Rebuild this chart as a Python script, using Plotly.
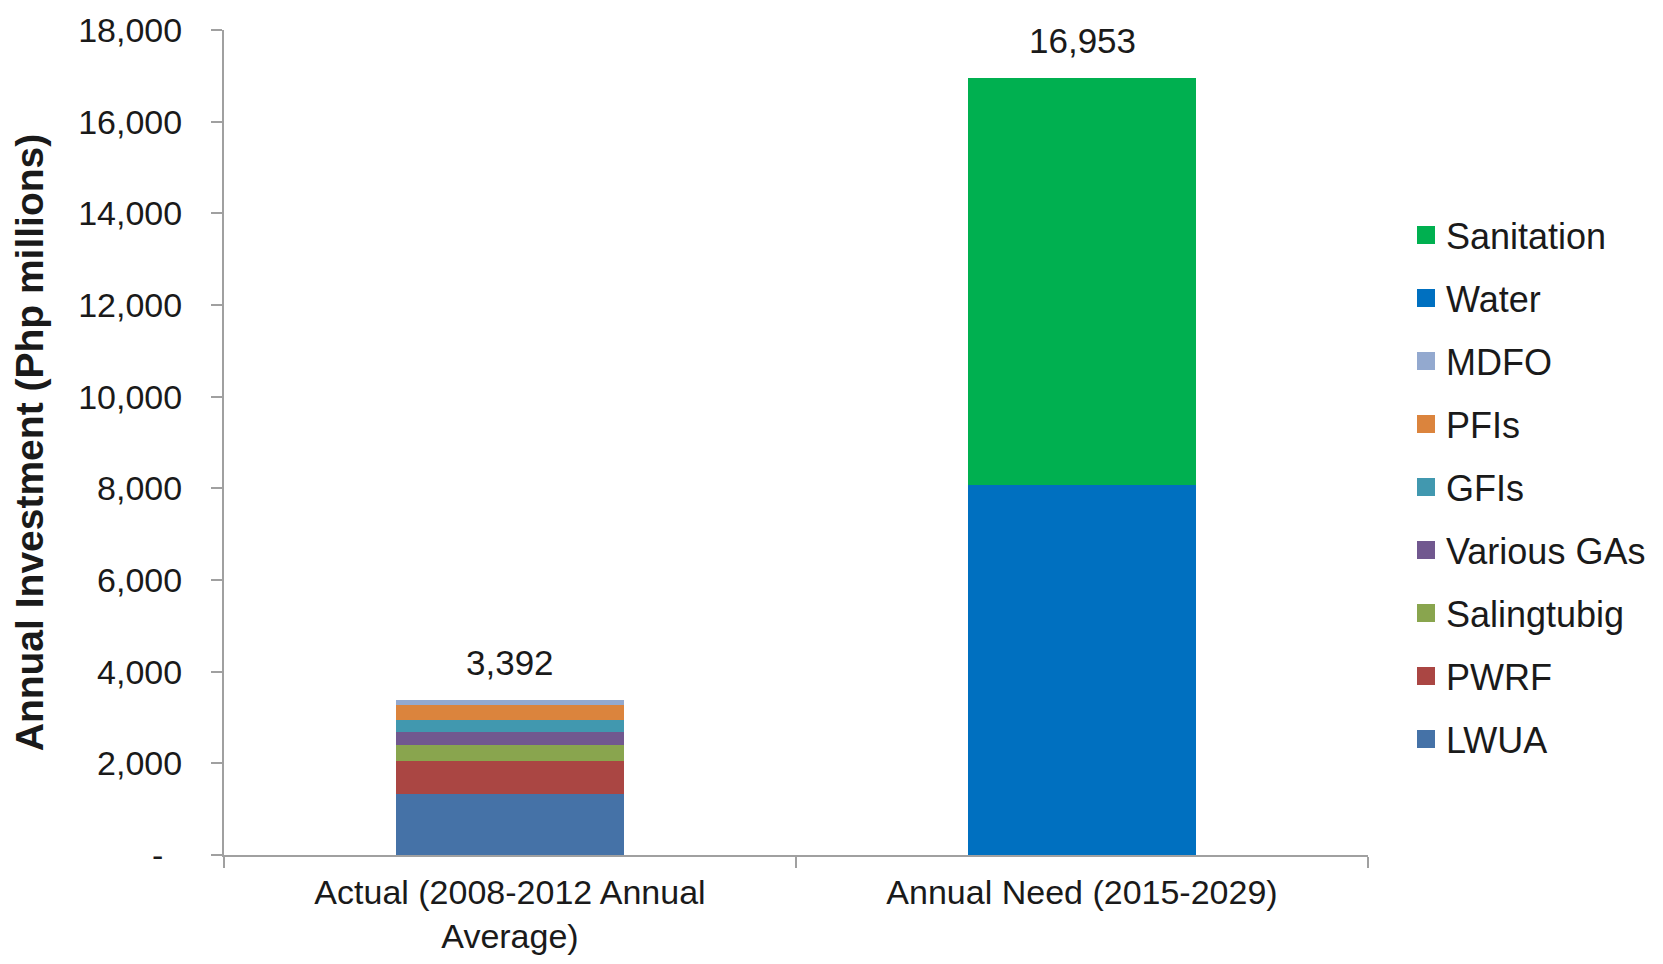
import plotly.graph_objects as go

categories = ["Actual (2008-2012 Annual Average)", "Annual Need (2015-2029)"]
category_labels = ["Actual (2008-2012 Annual<br>Average)", "Annual Need (2015-2029)"]

actual_series = ["LWUA", "PWRF", "Salingtubig", "Various GAs", "GFIs", "PFIs", "MDFO"]
actual_values = [1330, 715, 345, 285, 275, 333, 109]

need_series = ["Water", "Sanitation"]
need_values = [8080, 8873]

legend_order = ["Sanitation", "Water", "MDFO", "PFIs", "GFIs", "Various GAs", "Salingtubig", "PWRF", "LWUA"]

colors = {
    "LWUA": "#4572A7",
    "PWRF": "#AA4643",
    "Salingtubig": "#89A54E",
    "Various GAs": "#71588F",
    "GFIs": "#4198AF",
    "PFIs": "#DB843D",
    "MDFO": "#93A9CF",
    "Water": "#0070C0",
    "Sanitation": "#00B050",
}

y_tickvals = [0, 2000, 4000, 6000, 8000, 10000, 12000, 14000, 16000, 18000]
y_ticktext = ["-\u00a0\u00a0", "2,000", "4,000", "6,000", "8,000", "10,000", "12,000", "14,000", "16,000", "18,000"]

FONT = "Liberation Sans, Arial, sans-serif"
TXT = "#1a1a1a"
AX = "#A0A0A0"

W, H = 1647, 948

fig = go.Figure()

for name, val in zip(actual_series, actual_values):
    fig.add_trace(go.Bar(x=[categories[0]], y=[val], name=name, marker=dict(color=colors[name], line=dict(width=0)),
                         width=0.4, showlegend=False, hoverinfo="name+y"))
for name, val in zip(need_series, need_values):
    fig.add_trace(go.Bar(x=[categories[1]], y=[val], name=name, marker=dict(color=colors[name], line=dict(width=0)),
                         width=0.4, showlegend=False, hoverinfo="name+y"))

# legend entries (larger square swatches)
for name in legend_order:
    fig.add_trace(go.Scatter(x=[None], y=[None], mode="markers", name=name, legendgroup=name,
                             marker=dict(symbol="square", size=16, color=colors[name],
                                         line=dict(width=2, color=colors[name]))))

totals = [sum(actual_values), sum(need_values)]
for cat, tot in zip(categories, totals):
    fig.add_annotation(x=cat, y=tot, text=f"{tot:,}", showarrow=False, yanchor="middle", yshift=37,
                       font=dict(family=FONT, size=35, color=TXT))

fig.update_layout(
    width=W, height=H,
    barmode="stack",
    plot_bgcolor="white", paper_bgcolor="white",
    margin=dict(l=216, r=287, t=22, b=101),
    font=dict(family=FONT, size=35, color=TXT),
    legend=dict(xref="container", yref="container", x=1398 / W, y=(H - 197) / H,
                xanchor="left", yanchor="top", traceorder="grouped", tracegroupgap=13.2,
                maxheight=800,
                font=dict(family=FONT, size=36, color=TXT), bgcolor="rgba(0,0,0,0)",
                itemclick=False),
    xaxis=dict(type="category", categoryorder="array", categoryarray=categories,
               tickvals=categories, ticktext=category_labels, automargin=False,
               showline=True, linecolor=AX, linewidth=2,
               ticks="outside", tickson="boundaries", ticklen=11, tickcolor=AX, tickwidth=2,
               ticklabelstandoff=6,
               showgrid=False, zeroline=False,
               tickfont=dict(family=FONT, size=34, color=TXT)),
    yaxis=dict(range=[0, 18000], tickvals=y_tickvals, ticktext=y_ticktext, automargin=False,
               showline=True, linecolor=AX, linewidth=2,
               ticks="outside", ticklen=11, tickcolor=AX, tickwidth=2,
               ticklabelstandoff=22,
               showgrid=False, zeroline=False,
               tickfont=dict(family=FONT, size=34, color=TXT),
               title=dict(text="<b>Annual Investment (Php millions)</b>",
                          font=dict(family=FONT, size=39, color=TXT), standoff=23)),
)

fig.write_html("out.html")
